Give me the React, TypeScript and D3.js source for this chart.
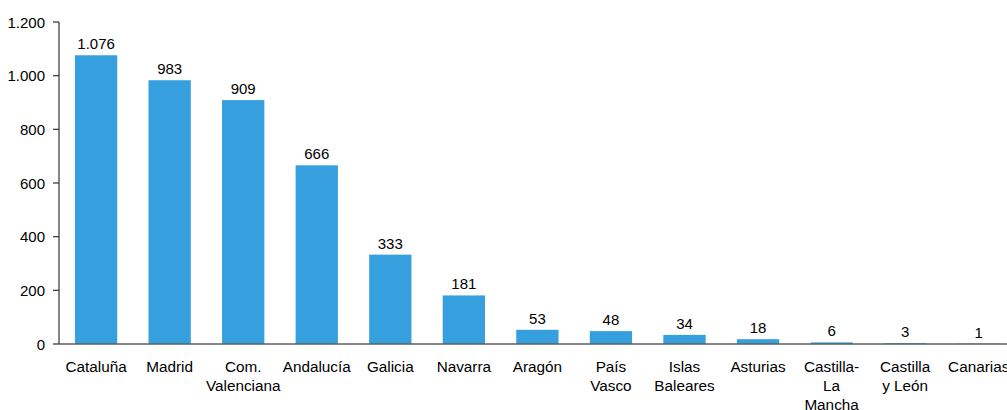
import React from "react";
import * as d3 from "d3";

const categories: string[][] = [
  ["Cataluña"],
  ["Madrid"],
  ["Com.", "Valenciana"],
  ["Andalucía"],
  ["Galicia"],
  ["Navarra"],
  ["Aragón"],
  ["País", "Vasco"],
  ["Islas", "Baleares"],
  ["Asturias"],
  ["Castilla-", "La", "Mancha"],
  ["Castilla", "y León"],
  ["Canarias"],
];
const values: number[] = [1076, 983, 909, 666, 333, 181, 53, 48, 34, 18, 6, 3, 1];
const yTicks: number[] = [0, 200, 400, 600, 800, 1000, 1200];

const W = 1007;
const H = 410;
const margin = { left: 59, top: 22 };
const baseY = 344;
const step = 73.6;

const fmt = (v: number) => {
  const s = String(v);
  return s.replace(/\B(?=(\d{3})+(?!\d))/g, ".");
};

export default function App() {
  const keys = categories.map((c) => c.join(" "));
  const x = d3
    .scaleBand<string>()
    .domain(keys)
    .range([margin.left, margin.left + step * keys.length])
    .paddingInner(0.425)
    .paddingOuter(0.217);
  const y = d3.scaleLinear().domain([0, 1200]).range([baseY, margin.top]);
  const font = "Arial, 'Liberation Sans', sans-serif";
  return (
    <svg
      width={W}
      height={H}
      style={{ position: "absolute", left: 0, top: 0 }}
      fontFamily={font}
    >
      {values.map((v, i) => {
        const k = keys[i];
        const bx = x(k)!;
        const cx = bx + x.bandwidth() / 2;
        return (
          <g key={k}>
            <rect
              x={bx}
              y={y(v)}
              width={x.bandwidth()}
              height={baseY - y(v)}
              fill="#36A0DF"
            />
            <text x={cx} y={y(v) - 6} textAnchor="middle" fontSize={15} fill="#000">
              {fmt(v)}
            </text>
            <text x={cx} y={371.5} textAnchor="middle" fontSize={15.3} fill="#000">
              {categories[i].map((line, j) => (
                <tspan key={j} x={cx} dy={j === 0 ? 0 : 19}>
                  {line}
                </tspan>
              ))}
            </text>
          </g>
        );
      })}
      <line x1={margin.left} x2={W} y1={baseY} y2={baseY} stroke="#5f5f5f" strokeWidth={1.6} />
      <line x1={margin.left} x2={margin.left} y1={y(1200)} y2={baseY} stroke="#333" strokeWidth={1.2} />
      {yTicks.map((t) => (
        <g key={t}>
          <line x1={margin.left - 6} x2={margin.left} y1={y(t)} y2={y(t)} stroke="#333" strokeWidth={1.2} />
          <text x={45} y={y(t) + 5.5} textAnchor="end" fontSize={15} fill="#000">
            {fmt(t)}
          </text>
        </g>
      ))}
    </svg>
  );
}
